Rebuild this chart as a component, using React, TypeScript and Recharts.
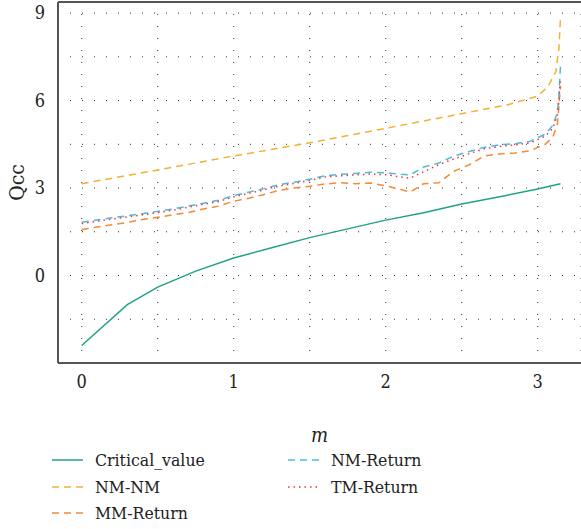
import React from "react";
import { LineChart, Line, XAxis, YAxis, CartesianGrid, ReferenceLine } from "recharts";

// m values (x axis) for each curve
const critM = [0, 0.3, 0.5, 0.75, 1, 1.25, 1.5, 1.75, 2, 2.25, 2.5, 2.75, 3, 3.15];
const critQ = [-2.4, -1.0, -0.4, 0.15, 0.6, 0.95, 1.3, 1.6, 1.9, 2.15, 2.45, 2.7, 2.97, 3.15];

const nmnmM = [0, 0.5, 1, 1.5, 2, 2.5, 2.8, 3.0, 3.07, 3.12, 3.14, 3.15];
const nmnmQ = [3.15, 3.62, 4.1, 4.55, 5.05, 5.55, 5.85, 6.15, 6.5, 7.0, 7.8, 8.85];

const retM = [
  0, 0.1, 0.2, 0.3, 0.4, 0.5, 0.6, 0.7, 0.8, 0.9, 1.0, 1.1, 1.2, 1.3, 1.4, 1.5, 1.6, 1.7,
  1.8, 1.9, 2.0, 2.1, 2.16, 2.25, 2.35, 2.45, 2.55, 2.65, 2.75, 2.85, 2.95, 3.05, 3.1,
  3.13, 3.14, 3.15,
];
const mmReturnQ = [
  1.58, 1.66, 1.74, 1.82, 1.92, 2.0, 2.08, 2.16, 2.28, 2.38, 2.55, 2.65, 2.78, 2.92, 3.0,
  3.06, 3.14, 3.18, 3.15, 3.17, 3.08, 2.95, 2.86, 3.15, 3.18, 3.58, 3.8, 4.1, 4.17, 4.2,
  4.28, 4.5, 4.75, 5.2, 5.8, 6.5,
];
const nmReturnQ = [
  1.83, 1.9, 1.98, 2.05, 2.12, 2.2, 2.28, 2.38, 2.48, 2.58, 2.74, 2.86, 2.98, 3.12, 3.2,
  3.3, 3.42, 3.47, 3.5, 3.54, 3.52, 3.47, 3.45, 3.72, 3.86, 4.1, 4.25, 4.4, 4.48, 4.52,
  4.6, 4.85, 5.15, 5.6, 6.2, 7.2,
];
const tmReturnQ = [
  1.78, 1.86, 1.94, 2.01, 2.08, 2.16, 2.24, 2.34, 2.44, 2.54, 2.7, 2.82, 2.94, 3.07, 3.16,
  3.26, 3.38, 3.42, 3.45, 3.48, 3.46, 3.38, 3.34, 3.56, 3.8, 4.0, 4.18, 4.35, 4.43, 4.48,
  4.55, 4.78, 5.05, 5.5, 6.0, 6.8,
];

const xTicks = [0, 0.5, 1, 1.5, 2, 2.5, 3];
const yTicks = [-3, -1.5, 0, 1.5, 3, 4.5, 6, 7.5, 9];

const X_MIN = -0.156;
const X_MAX = 3.285;
const Y_MIN = -3;
const Y_MAX = 9.38;

const FONT = "'DejaVu Serif Condensed', 'DejaVu Serif', serif";

const toPoints = (ms: number[], qs: number[]) => ms.map((m, i) => ({ m, q: qs[i] }));

const series = [
  { name: "Critical_value", data: toPoints(critM, critQ), color: "#23a08a", dash: undefined },
  { name: "NM-NM", data: toPoints(nmnmM, nmnmQ), color: "#f2b134", dash: "7 5" },
  { name: "MM-Return", data: toPoints(retM, mmReturnQ), color: "#f28a36", dash: "7 5" },
  { name: "NM-Return", data: toPoints(retM, nmReturnQ), color: "#52b9dd", dash: "7 5" },
  { name: "TM-Return", data: toPoints(retM, tmReturnQ), color: "#e8383d", dash: "1.5 4" },
];

// legend order: column 1 then column 2
const legendCols = [
  ["Critical_value", "NM-NM", "MM-Return"],
  ["NM-Return", "TM-Return"],
];

export default function App() {
  return (
    <div style={{ position: "absolute", left: 0, top: 0, width: 581, height: 529, background: "#fff", fontFamily: FONT }}>
      <LineChart width={581} height={450} margin={{ top: 2, right: 0, bottom: 0, left: 0 }} style={{ fontFamily: FONT }}>
        <CartesianGrid stroke="#333" strokeDasharray="1 11" strokeWidth={1} />
        <XAxis
          dataKey="m"
          type="number"
          domain={[X_MIN, X_MAX]}
          allowDataOverflow
          ticks={xTicks}
          tickFormatter={(v: number) => (Number.isInteger(v) ? String(v) : "")}
          height={87}
          tickLine={false}
          tickSize={0}
          tickMargin={12}
          axisLine={{ stroke: "#555", strokeWidth: 2 }}
          tick={{ fill: "#222", fontSize: 18, fontFamily: FONT }}
          label={{
            value: "m",
            position: "insideBottom",
            offset: 8,
            style: { fill: "#222", fontSize: 20, fontStyle: "italic", fontFamily: FONT },
          }}
        />
        <YAxis
          type="number"
          domain={[Y_MIN, Y_MAX]}
          allowDataOverflow
          ticks={yTicks}
          tickFormatter={(v: number) => (v >= 0 && v % 3 === 0 ? String(v) : "")}
          width={58}
          tickLine={false}
          tickSize={0}
          tickMargin={13}
          axisLine={{ stroke: "#555", strokeWidth: 2 }}
          tick={{ fill: "#222", fontSize: 18, fontFamily: FONT }}
          label={{
            value: "Qcc",
            angle: -90,
            position: "insideLeft",
            offset: 17,
            style: { fill: "#222", fontSize: 21, fontFamily: FONT, textAnchor: "middle" },
          }}
        />
        <ReferenceLine y={Y_MAX} stroke="#555" strokeWidth={2} />
        {series.map((s) => (
          <Line
            key={s.name}
            data={s.data}
            dataKey="q"
            name={s.name}
            type="linear"
            stroke={s.color}
            strokeWidth={1.5}
            strokeDasharray={s.dash}
            dot={false}
            activeDot={false}
            isAnimationActive={false}
          />
        ))}
      </LineChart>

      {/* legend */}
      <div style={{ position: "absolute", left: 52, top: 447, display: "flex", fontFamily: FONT, fontSize: 17.5, color: "#222" }}>
        {legendCols.map((col, ci) => (
          <div key={ci} style={{ width: 236 }}>
            {col.map((name) => {
              const s = series.find((x) => x.name === name)!;
              return (
                <div key={name} style={{ display: "flex", alignItems: "center", height: 26.5, lineHeight: "26px" }}>
                  <svg width={31} height={10} style={{ marginRight: 12 }}>
                    <line x1={0} y1={5} x2={31} y2={5} stroke={s.color} strokeWidth={1.5} strokeDasharray={s.dash} />
                  </svg>
                  <span>{name}</span>
                </div>
              );
            })}
          </div>
        ))}
      </div>
    </div>
  );
}
